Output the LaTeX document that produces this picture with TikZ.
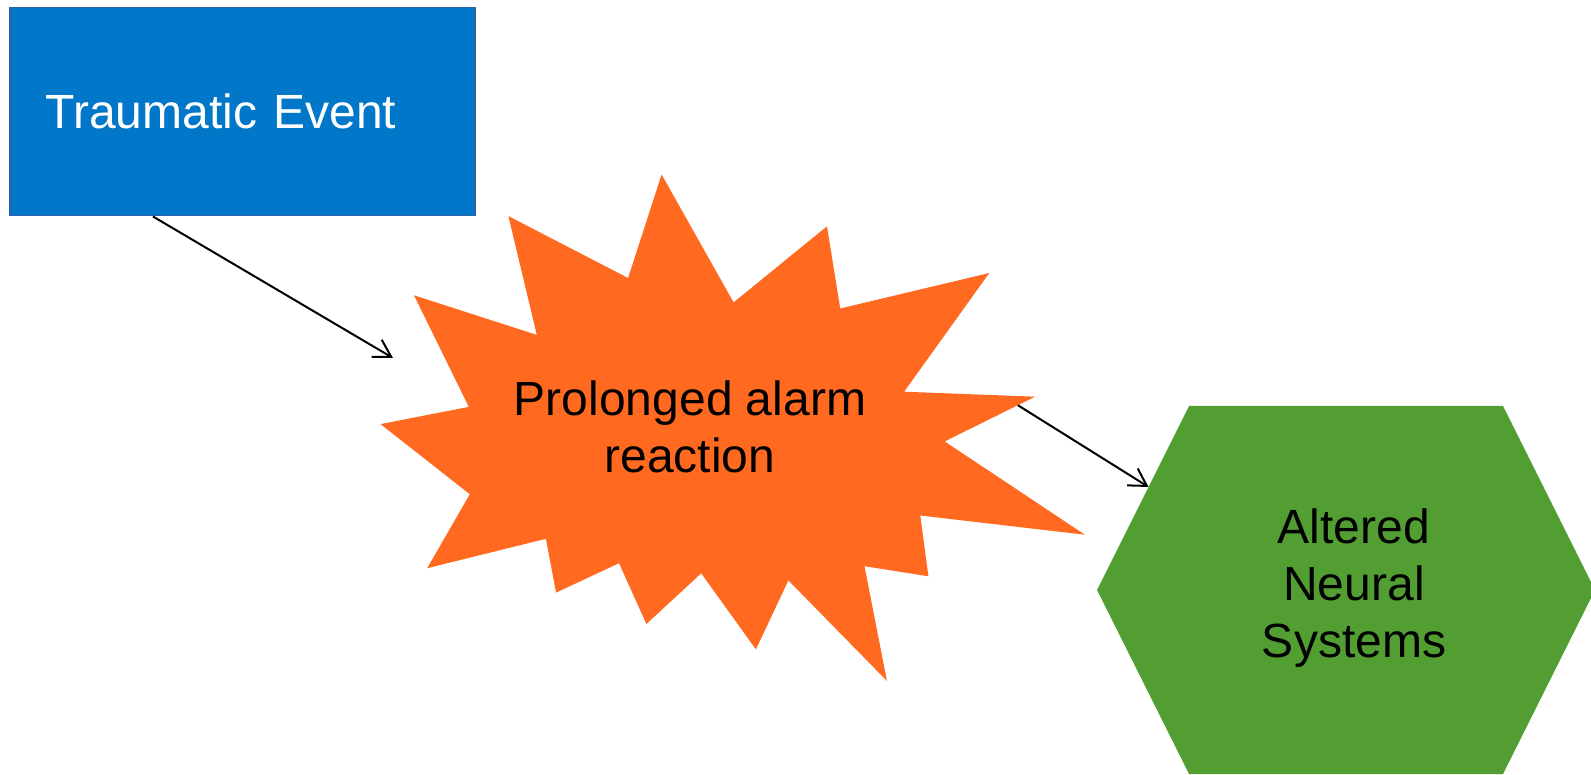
\documentclass[tikz,border=0pt]{standalone}
\usepackage{fontspec}
\setmainfont{Liberation Sans}
\usetikzlibrary{positioning, arrows.meta, calc}
\definecolor{trauma-blue}{HTML}{0077C8}
\definecolor{trauma-edge}{HTML}{2A64A0}
\definecolor{alarm-orange}{HTML}{FF6920}
\definecolor{neural-green}{HTML}{529E32}

\begin{document}
\begin{tikzpicture}[
    x=1pt, y=-1pt,
    big/.style={font=\fontsize{48}{57}\selectfont},
    link/.style={draw=black, line width=2pt, -{Straight Barb[length=17pt, width=20pt, line width=2pt]}},
]
    \useasboundingbox (0, 0) rectangle (1591, 775);

    % Trauma
    \node[big, draw=trauma-edge, line width=1.5pt, fill=trauma-blue, text=white,
          anchor=north west, minimum width=465pt, minimum height=208pt,
          text width=393pt, inner xsep=36pt, inner ysep=0pt, align=left] (trauma) at (9, 7) {Traumatic Event};

    % Alarm
    \fill[alarm-orange] (661.6, 174.5) -- (733.6, 302.4) -- (827.0, 226.3) -- (840.2, 308.5)
        -- (989.3, 273.0) -- (904.1, 391.7) -- (1035.0, 396.7) coordinate (alarm-tip)
        -- (944.7, 441.4) coordinate (alarm-notch) -- (1084.7, 534.7) -- (920.3, 515.5)
        -- (928.4, 576.3) -- (864.5, 566.2) -- (886.9, 680.9) -- (788.4, 580.4)
        -- (755.9, 649.4) -- (701.2, 573.3) -- (646.4, 624.0) -- (619.0, 563.2)
        -- (556.1, 592.6) -- (545.9, 538.8) -- (427.2, 568.2) -- (469.8, 494.2)
        -- (380.5, 424.1) -- (468.8, 406.9) -- (414.0, 295.3) -- (536.8, 334.9)
        -- (508.4, 216.1) -- (628.1, 278.0) -- cycle;
    \node[big, align=center, inner sep=0pt] (alarm) at (690, 427) {Prolonged alarm\\reaction};
    \coordinate (alarm-in) at (393, 358);

    % Neural
    \fill[neural-green] (1189, 406) coordinate (neural-nw) -- (1503, 406) -- (1595, 590)
        -- (1503, 774) -- (1189, 774) -- (1097, 590) coordinate (neural-w) -- cycle;
    \node[big, align=center, inner sep=0pt] (neural) at (1354, 588) {Altered\\Neural\\Systems};

    % Arrows
    \draw[link] ([xshift=144pt]trauma.south west) -- (alarm-in);
    \draw[link] ($(alarm-tip)!0.19!(alarm-notch)$) -- ($(neural-nw)!0.44!(neural-w)$);
\end{tikzpicture}
\end{document}
